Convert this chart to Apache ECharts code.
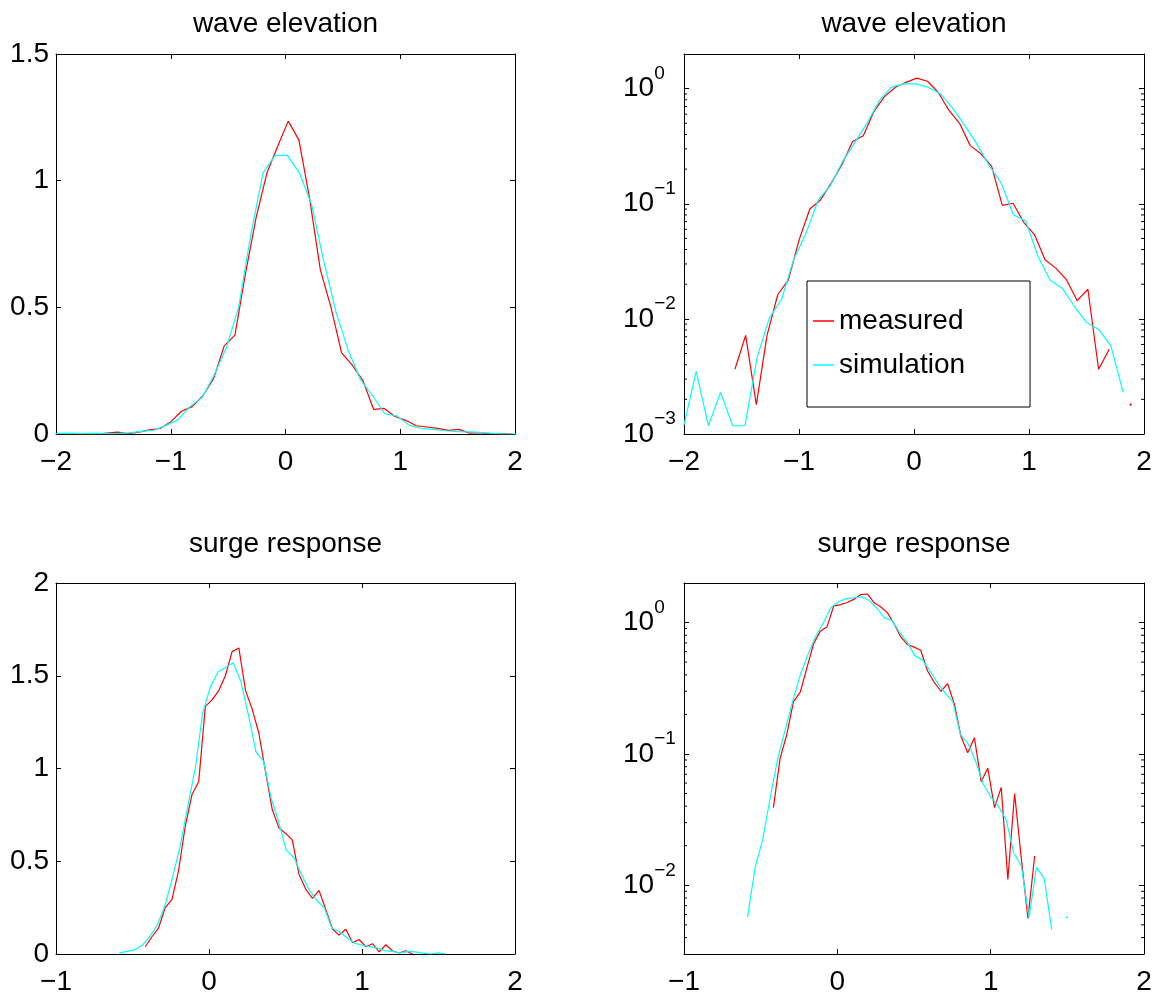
<!DOCTYPE html>
<html>
<head>
<meta charset="utf-8">
<script src="https://cdn.jsdelivr.net/npm/echarts@6/dist/echarts.min.js"></script>
<style>
  html, body { margin: 0; padding: 0; background: #fff; }
  #chart { width: 1163px; height: 998px; }
</style>
</head>
<body>
<div id="chart"></div>
<script>
// ---- wave elevation: bin centres and probability densities ----
const waveMeasuredX = [-1.929, -1.836, -1.743, -1.650, -1.557, -1.464, -1.371, -1.278, -1.185, -1.092,
  -0.999, -0.906, -0.813, -0.720, -0.627, -0.534, -0.441, -0.348, -0.255, -0.162,
  -0.069, 0.024, 0.117, 0.210, 0.303, 0.396, 0.489, 0.582, 0.675, 0.768,
  0.861, 0.954, 1.047, 1.140, 1.233, 1.326, 1.419, 1.512, 1.605, 1.698,
  1.791, 1.884, 1.977];
const waveMeasuredY = [0, 0, 0, 0, 0.00365, 0.0072, 0.0018, 0.0072, 0.0162, 0.0218,
  0.0486, 0.090, 0.108, 0.151, 0.218, 0.348, 0.39, 0.635, 0.857, 1.03,
  1.135, 1.235, 1.16, 0.93, 0.65, 0.50, 0.32, 0.272, 0.211, 0.097,
  0.101, 0.069, 0.054, 0.0326, 0.0276, 0.0219, 0.0144, 0.0181, 0.00365, 0.00545,
  0, 0.0018, 0];

const waveSimX = [-2.000, -1.894, -1.788, -1.682, -1.576, -1.470, -1.363, -1.257, -1.151, -1.045,
  -0.939, -0.833, -0.727, -0.621, -0.515, -0.409, -0.302, -0.196, -0.090, 0.016,
  0.122, 0.228, 0.334, 0.441, 0.547, 0.653, 0.759, 0.865, 0.971, 1.077,
  1.183, 1.289, 1.395, 1.501, 1.607, 1.713, 1.819, 1.925, 2.031];
const waveSimY = [0.0012, 0.0035, 0.00118, 0.0023, 0.00118, 0.00118, 0.0047, 0.0102, 0.0148, 0.033,
  0.0556, 0.108, 0.144, 0.233, 0.341, 0.50, 0.787, 1.03, 1.10, 1.10,
  1.03, 0.905, 0.68, 0.48, 0.33, 0.215, 0.151, 0.080, 0.071, 0.035,
  0.0218, 0.0185, 0.0128, 0.0093, 0.0081, 0.0058, 0.0023, 0, 0];

// ---- surge response: bin centres and probability densities ----
const surgeMeasuredX = [-0.417, -0.373, -0.330, -0.286, -0.242, -0.199, -0.155, -0.111, -0.067, -0.024,
  0.020, 0.064, 0.107, 0.151, 0.195, 0.239, 0.282, 0.326, 0.370, 0.413,
  0.457, 0.501, 0.544, 0.588, 0.632, 0.676, 0.719, 0.763, 0.807, 0.850,
  0.894, 0.938, 0.981, 1.025, 1.069, 1.112, 1.156, 1.200, 1.243, 1.287,
  1.331];
const surgeMeasuredY = [0.039, 0.093, 0.14, 0.25, 0.295, 0.45, 0.69, 0.86, 0.93, 1.335,
  1.37, 1.42, 1.50, 1.63, 1.65, 1.42, 1.32, 1.19, 0.98, 0.78,
  0.68, 0.65, 0.615, 0.43, 0.35, 0.30, 0.343, 0.24, 0.135, 0.102,
  0.133, 0.0615, 0.078, 0.039, 0.0556, 0.0111, 0.050, 0.016, 0.0056, 0.0167,
  0];

const surgeSimX = [-0.586, -0.536, -0.487, -0.437, -0.388, -0.338, -0.288, -0.239, -0.189, -0.140,
  -0.090, -0.041, 0.009, 0.059, 0.108, 0.158, 0.208, 0.257, 0.307, 0.357,
  0.406, 0.456, 0.505, 0.555, 0.604, 0.654, 0.704, 0.753, 0.803, 0.852,
  0.902, 0.952, 1.001, 1.051, 1.101, 1.150, 1.200, 1.250, 1.299, 1.349,
  1.398, 1.448, 1.497, 1.547];
const surgeSimY = [0.0057, 0.0137, 0.0223, 0.047, 0.093, 0.156, 0.26, 0.41, 0.58, 0.79,
  1.0, 1.30, 1.44, 1.52, 1.545, 1.57, 1.47, 1.29, 1.09, 1.04,
  0.84, 0.71, 0.56, 0.52, 0.43, 0.345, 0.29, 0.25, 0.14, 0.12,
  0.088, 0.059, 0.047, 0.040, 0.0315, 0.0177, 0.0141, 0.0057, 0.0137, 0.0113,
  0.0046, 0, 0.0057, 0];

// minor tick positions on the logarithmic axes
const waveLogMinor = [0.002, 0.003, 0.004, 0.005, 0.006, 0.007, 0.008, 0.009,
  0.02, 0.03, 0.04, 0.05, 0.06, 0.07, 0.08, 0.09,
  0.2, 0.3, 0.4, 0.5, 0.6, 0.7, 0.8, 0.9];
const surgeLogMinor = [0.004, 0.005, 0.006, 0.007, 0.008, 0.009,
  0.02, 0.03, 0.04, 0.05, 0.06, 0.07, 0.08, 0.09,
  0.2, 0.3, 0.4, 0.5, 0.6, 0.7, 0.8, 0.9];

const panelTitles = ['wave elevation', 'wave elevation', 'surge response', 'surge response'];
const seriesNames = ['measured', 'simulation'];

const FONT = '"Liberation Sans", Arial, Helvetica, sans-serif';
const FS = 28;
const RED = '#ff0000';
const CYAN = '#00ffff';

const grids = [
  { left: 56,  top: 54,  width: 459, height: 380 },
  { left: 684, top: 54,  width: 460, height: 380 },
  { left: 56,  top: 583, width: 459, height: 371 },
  { left: 684, top: 583, width: 460, height: 371 }
];

const minus = v => String(v).replace('-', '\u2212');

function logLabel(v) {
  const l = Math.log10(v);
  const e = Math.round(l);
  if (Math.abs(l - e) > 1e-6) return '';
  return '{b|10}{s|' + minus(e) + '}';
}

const axisLineStyle = { show: true, onZero: false, lineStyle: { color: '#000', width: 1 } };
const tickStyle = { show: true, inside: true, length: 5, lineStyle: { color: '#000', width: 1 } };

function xAxesFor(g, min, max) {
  return [
    { type: 'value', gridIndex: g, position: 'bottom', min, max, interval: 1,
      axisLine: axisLineStyle, axisTick: tickStyle, splitLine: { show: false },
      axisLabel: { color: '#000', fontSize: FS, fontFamily: FONT, margin: 14,
        formatter: minus, showMinLabel: true, showMaxLabel: true } },
    { type: 'value', gridIndex: g, position: 'top', min, max, interval: 1,
      axisLine: axisLineStyle, axisTick: tickStyle, splitLine: { show: false },
      axisLabel: { show: false } }
  ];
}

function linYAxesFor(g, min, max, interval) {
  return [
    { type: 'value', gridIndex: g, position: 'left', min, max, interval,
      axisLine: axisLineStyle, axisTick: tickStyle, splitLine: { show: false },
      axisLabel: { color: '#000', fontSize: FS, fontFamily: FONT, margin: 7,
        formatter: minus, showMinLabel: true, showMaxLabel: true } },
    { type: 'value', gridIndex: g, position: 'right', min, max, interval,
      axisLine: axisLineStyle, axisTick: tickStyle, splitLine: { show: false },
      axisLabel: { show: false } }
  ];
}

function logYAxesFor(g, min, max) {
  return [
    { type: 'log', logBase: 10, gridIndex: g, position: 'left', min, max,
      axisLine: axisLineStyle, axisTick: tickStyle, splitLine: { show: false },
      axisLabel: { color: '#000', fontSize: FS, fontFamily: FONT, margin: 61, align: 'left',
        formatter: logLabel,
        rich: {
          b: { fontSize: FS, fontFamily: FONT, color: '#000' },
          s: { fontSize: 19, fontFamily: FONT, color: '#000', padding: [0, 0, 30, 0] }
        } } },
    { type: 'log', logBase: 10, gridIndex: g, position: 'right', min, max,
      axisLine: axisLineStyle, axisTick: tickStyle, splitLine: { show: false },
      axisLabel: { show: false } }
  ];
}

const zip = (xs, ys) => xs.map((x, i) => [x, ys[i]]);
// zero-density bins cannot be drawn on a log axis; isolated bins get a small dot
function logData(xs, ys) {
  return xs.map((x, i) => {
    const y = ys[i];
    if (!(y > 0)) return [x, null];
    const prev = i > 0 ? ys[i - 1] : 0;
    const next = i < ys.length - 1 ? ys[i + 1] : 0;
    if (!(prev > 0) && !(next > 0)) {
      return { value: [x, y], symbol: 'rect', symbolSize: 2 };
    }
    return [x, y];
  });
}

function lineSeries(name, g, data, color) {
  return {
    type: 'line', name, xAxisIndex: 2 * g, yAxisIndex: 2 * g, data,
    symbol: 'none', showSymbol: true, silent: true, animation: false,
    lineStyle: { color, width: 1.2 }, itemStyle: { color },
    connectNulls: false, z: 3
  };
}

function minorTickSeries(g, xMin, values) {
  return {
    type: 'custom', xAxisIndex: 2 * g, yAxisIndex: 2 * g, silent: true, animation: false,
    clip: false, z: 4,
    data: values.map(v => [xMin, v]),
    renderItem: (params, api) => {
      const p = api.coord([api.value(0), api.value(1)]);
      const cs = params.coordSys;
      const len = 3;
      const st = { stroke: '#000', lineWidth: 1 };
      return {
        type: 'group',
        children: [
          { type: 'line', shape: { x1: cs.x, y1: p[1], x2: cs.x + len, y2: p[1] }, style: st },
          { type: 'line', shape: { x1: cs.x + cs.width - len, y1: p[1], x2: cs.x + cs.width, y2: p[1] }, style: st }
        ]
      };
    }
  };
}

const titles = grids.map((gr, i) => ({
  text: panelTitles[i],
  left: gr.left + gr.width / 2,
  top: i < 2 ? 10 : 530,
  textAlign: 'center',
  padding: 0,
  textStyle: { fontSize: FS, fontWeight: 'normal', fontFamily: FONT, color: '#000' }
}));

const option = {
  backgroundColor: '#fff',
  animation: false,
  title: titles,
  grid: grids.map(g => Object.assign({ containLabel: false }, g)),
  xAxis: [
    ...xAxesFor(0, -2, 2),
    ...xAxesFor(1, -2, 2),
    ...xAxesFor(2, -1, 2),
    ...xAxesFor(3, -1, 2)
  ],
  yAxis: [
    ...linYAxesFor(0, 0, 1.5, 0.5),
    ...logYAxesFor(1, 0.001, 2),
    ...linYAxesFor(2, 0, 2, 0.5),
    ...logYAxesFor(3, 0.003, 2)
  ],
  legend: {
    data: seriesNames,
    orient: 'vertical',
    left: 807, top: 281,
    padding: [26, 65, 28, 6],
    itemGap: 16,
    icon: 'rect',
    itemWidth: 21,
    itemHeight: 1.5,
    borderColor: '#000', borderWidth: 1,
    backgroundColor: '#fff',
    selectedMode: false,
    textStyle: { fontSize: FS, fontFamily: FONT, color: '#000', lineHeight: 28 }
  },
  series: [
    lineSeries(seriesNames[0], 0, zip(waveMeasuredX, waveMeasuredY), RED),
    lineSeries(seriesNames[1], 0, zip(waveSimX, waveSimY), CYAN),
    lineSeries(seriesNames[0], 1, logData(waveMeasuredX, waveMeasuredY), RED),
    lineSeries(seriesNames[1], 1, logData(waveSimX, waveSimY), CYAN),
    minorTickSeries(1, -2, waveLogMinor),
    lineSeries(seriesNames[0], 2, zip(surgeMeasuredX, surgeMeasuredY), RED),
    lineSeries(seriesNames[1], 2, zip(surgeSimX, surgeSimY), CYAN),
    lineSeries(seriesNames[0], 3, logData(surgeMeasuredX, surgeMeasuredY), RED),
    lineSeries(seriesNames[1], 3, logData(surgeSimX, surgeSimY), CYAN),
    minorTickSeries(3, -1, surgeLogMinor)
  ]
};

const chart = echarts.init(document.getElementById('chart'), null, { renderer: 'canvas' });
chart.setOption(option);
</script>
</body>
</html>
